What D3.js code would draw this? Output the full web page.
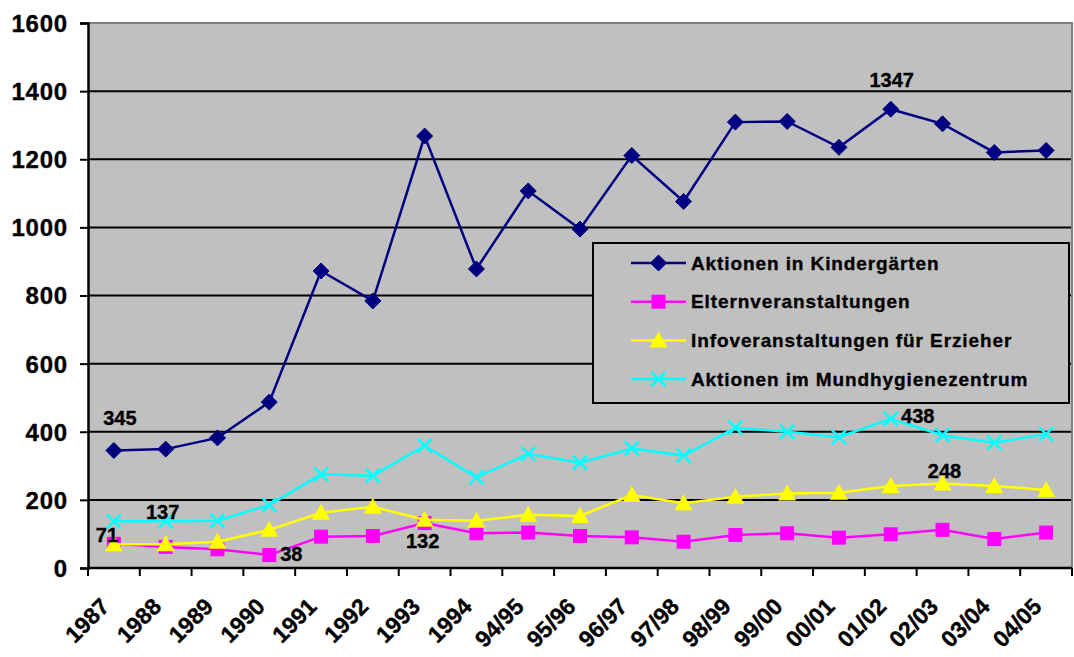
<!DOCTYPE html>
<html><head><meta charset="utf-8">
<script src="https://cdn.jsdelivr.net/npm/d3@7"></script>
<style>body{margin:0;background:#fff}svg{display:block}text{font-family:Arial,"Liberation Sans",sans-serif;font-weight:bold;stroke:#000;stroke-width:0.35px}</style>
</head><body>
<svg id="c" width="1074" height="657"></svg>
<script>
const categories = ["1987","1988","1989","1990","1991","1992","1993","1994","94/95","95/96","96/97","97/98","98/99","99/00","00/01","01/02","02/03","03/04","04/05"];
const kindergarten = [345,349,382,487,872,784,1268,878,1107,995,1211,1076,1309,1311,1235,1347,1304,1220,1226];
const eltern = [71,62,55,38,92,94,132,102,104,94,90,77,97,102,89,99,112,85,104];
const info = [70,70,77,112,162,180,142,139,156,153,214,190,209,219,221,241,248,241,229];
const mundhygiene = [137,137,139,185,275,271,359,266,335,309,351,330,412,400,384,438,390,368,393];
const seriesNames = ["Aktionen in Kindergärten","Elternveranstaltungen","Infoveranstaltungen für Erzieher","Aktionen im Mundhygienezentrum"];
const yTicks = [0,200,400,600,800,1000,1200,1400,1600];
// data labels: [series index, category index, text]
const labels = [[0,0,"345"],[1,0,"71"],[3,1,"137"],[1,3,"38"],[1,6,"132"],[3,15,"438"],[2,16,"248"],[0,15,"1347"]];

const cats = categories;
const series = [
  {name:seriesNames[0], values:kindergarten, color:"#000080", marker:"diamond"},
  {name:seriesNames[1], values:eltern, color:"#FF00FF", marker:"square"},
  {name:seriesNames[2], values:info, color:"#FFFF00", marker:"triangle"},
  {name:seriesNames[3], values:mundhygiene, color:"#00FFFF", marker:"x"}
];

const svg = d3.select("#c");
const L=88, T=23, R=1072, B=568;
const x = d3.scaleBand().domain(cats).range([L,R]);
const y = d3.scaleLinear().domain([0,1600]).range([B,T]);
const cx = c => x(c)+x.bandwidth()/2;

svg.append("rect").attr("x",L).attr("y",T).attr("width",R-L).attr("height",B-T).attr("fill","#C0C0C0");
// gridlines
svg.append("g").selectAll("line").data(yTicks.filter(v=>v>0&&v<1600)).join("line")
  .attr("x1",L).attr("x2",R).attr("y1",d=>y(d)).attr("y2",d=>y(d)).attr("stroke","#000").attr("stroke-width",2);
// border top/right grey
svg.append("path").attr("d",`M${L},${T}H${R}V${B}`).attr("fill","none").attr("stroke","#808080").attr("stroke-width",2);

// y axis
const yAxis = svg.append("g").attr("transform",`translate(${L},0)`)
  .call(d3.axisLeft(y).tickValues(yTicks).tickSize(8).tickPadding(12).tickFormat(d3.format("d")));
yAxis.select(".domain").attr("stroke","#000").attr("stroke-width",2.5);
yAxis.selectAll(".tick line").attr("stroke","#000").attr("stroke-width",2);
yAxis.selectAll(".tick text").attr("font-size",24).attr("letter-spacing","0.8px").attr("fill","#000").attr("font-family","Arial, 'Liberation Sans', sans-serif").attr("font-weight","bold").attr("dy","0.35em");

// x axis: ticks at category boundaries
const xAxisG = svg.append("g");
xAxisG.append("line").attr("x1",L).attr("x2",R).attr("y1",B).attr("y2",B).attr("stroke","#000").attr("stroke-width",2.5);
const bounds = cats.map(c=>x(c)).concat([R]);
xAxisG.selectAll("line.t").data(bounds).join("line").attr("class","t")
  .attr("x1",d=>d).attr("x2",d=>d).attr("y1",B).attr("y2",B+8).attr("stroke","#000").attr("stroke-width",2);
xAxisG.selectAll("text").data(cats).join("text")
  .attr("transform",d=>`translate(${cx(d)-3},${B+40}) rotate(-45)`)
  .attr("text-anchor","end").attr("font-size",23).attr("fill","#000").text(d=>d);

// lines
const line = d3.line().x((d,i)=>cx(cats[i])).y(d=>y(d));
function drawMarker(g, type, color, px, py){
  if(type==="diamond"){
    g.append("path").attr("d",`M${px},${py-8}L${px+8},${py}L${px},${py+8}L${px-8},${py}Z`).attr("fill",color).attr("stroke",color);
  } else if(type==="square"){
    g.append("rect").attr("x",px-7).attr("y",py-7).attr("width",14).attr("height",14).attr("fill",color);
  } else if(type==="triangle"){
    g.append("path").attr("d",`M${px},${py-9}L${px+9},${py+7}L${px-9},${py+7}Z`).attr("fill",color);
  } else {
    g.append("path").attr("d",`M${px-7},${py-7}L${px+7},${py+7}M${px-7},${py+7}L${px+7},${py-7}`).attr("stroke",color).attr("stroke-width",2.5).attr("fill","none");
  }
}
series.forEach(s=>{
  const vals = s.values;
  const g = svg.append("g");
  g.append("path").attr("d",line(vals)).attr("fill","none").attr("stroke",s.color).attr("stroke-width",2.5);
  vals.forEach((v,i)=>drawMarker(g,s.marker,s.color,cx(cats[i]),y(v)));
});

// data labels (offsets relative to the point)
const offs = {"345":[6,-25.5],"71":[-7,-2],"137":[-3,-2],"38":[22,6],"132":[-2,25],"438":[27,4],"248":[2,-5.5],"1347":[1,-22.5]};
labels.forEach(([si,ci,t])=>{
  const s = series[si]; const v = s.values[ci];
  const o = offs[t];
  svg.append("text").attr("x",cx(cats[ci])+o[0]).attr("y",y(v)+o[1]).attr("text-anchor","middle")
    .attr("font-size",20).attr("fill","#000").text(t);
});

// legend
const lg = svg.append("g");
lg.append("rect").attr("x",593).attr("y",243).attr("width",476).attr("height",160).attr("fill","#C0C0C0").attr("stroke","#000").attr("stroke-width",2);
series.forEach((s,i)=>{
  const ly = 263 + i*38.7;
  lg.append("line").attr("x1",631).attr("x2",686).attr("y1",ly).attr("y2",ly).attr("stroke",s.color).attr("stroke-width",2.5);
  drawMarker(lg,s.marker,s.color,658.5,ly);
  lg.append("text").attr("x",691).attr("y",ly).attr("dy","0.35em").attr("font-size",19).attr("letter-spacing","0.9px").attr("fill","#000").text(s.name);
});
</script>
</body></html>
